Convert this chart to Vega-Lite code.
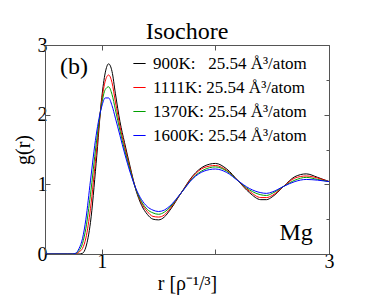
{
  "$schema": "https://vega.github.io/schema/vega-lite/v6.json",
  "width": 284,
  "height": 209,
  "autosize": {"type": "none"},
  "padding": {"left": 45, "top": 45, "right": 45, "bottom": 45},
  "background": "white",
  "title": {"text": "Isochore", "font": "Liberation Serif", "fontSize": 24, "fontWeight": "normal", "color": "black", "anchor": "middle", "offset": -9},
  "config": {"view": {"stroke": null}, "font": "Liberation Serif"},
  "datasets": {
    "gr": [
      {"r": 0.5, "900K": 0, "1111K": 0, "1370K": 0, "1600K": 0},
      {"r": 0.7, "900K": 0, "1111K": 0, "1370K": 0, "1600K": 0},
      {"r": 0.74, "900K": 0, "1111K": 0, "1370K": 0, "1600K": 0},
      {"r": 0.77, "900K": 0, "1111K": 0, "1370K": 0.01, "1600K": 0.01},
      {"r": 0.8, "900K": 0, "1111K": 0.03, "1370K": 0.05, "1600K": 0.08},
      {"r": 0.83, "900K": 0.01, "1111K": 0.08, "1370K": 0.15, "1600K": 0.22},
      {"r": 0.86, "900K": 0.1, "1111K": 0.23, "1370K": 0.37, "1600K": 0.5},
      {"r": 0.9, "900K": 0.45, "1111K": 0.65, "1370K": 0.85, "1600K": 1.05},
      {"r": 0.95, "900K": 1.3, "1111K": 1.43, "1370K": 1.57, "1600K": 1.7},
      {"r": 1.0, "900K": 2.25, "1111K": 2.21, "1370K": 2.16, "1600K": 2.12},
      {"r": 1.03, "900K": 2.6, "1111K": 2.48, "1370K": 2.36, "1600K": 2.24},
      {"r": 1.06, "900K": 2.73, "1111K": 2.57, "1370K": 2.4, "1600K": 2.24},
      {"r": 1.09, "900K": 2.62, "1111K": 2.46, "1370K": 2.29, "1600K": 2.13},
      {"r": 1.12, "900K": 2.3, "1111K": 2.18, "1370K": 2.07, "1600K": 1.95},
      {"r": 1.16, "900K": 1.9, "1111K": 1.83, "1370K": 1.77, "1600K": 1.7},
      {"r": 1.2, "900K": 1.6, "1111K": 1.55, "1370K": 1.5, "1600K": 1.45},
      {"r": 1.25, "900K": 1.25, "1111K": 1.22, "1370K": 1.2, "1600K": 1.17},
      {"r": 1.3, "900K": 0.92, "1111K": 0.93, "1370K": 0.93, "1600K": 0.94},
      {"r": 1.35, "900K": 0.7, "1111K": 0.73, "1370K": 0.75, "1600K": 0.78},
      {"r": 1.4, "900K": 0.57, "1111K": 0.61, "1370K": 0.64, "1600K": 0.68},
      {"r": 1.45, "900K": 0.5, "1111K": 0.54, "1370K": 0.59, "1600K": 0.63},
      {"r": 1.5, "900K": 0.49, "1111K": 0.53, "1370K": 0.57, "1600K": 0.61},
      {"r": 1.55, "900K": 0.53, "1111K": 0.56, "1370K": 0.6, "1600K": 0.63},
      {"r": 1.6, "900K": 0.63, "1111K": 0.65, "1370K": 0.67, "1600K": 0.69},
      {"r": 1.7, "900K": 0.88, "1111K": 0.88, "1370K": 0.88, "1600K": 0.88},
      {"r": 1.8, "900K": 1.12, "1111K": 1.11, "1370K": 1.09, "1600K": 1.08},
      {"r": 1.9, "900K": 1.26, "1111K": 1.24, "1370K": 1.21, "1600K": 1.19},
      {"r": 2.0, "900K": 1.3, "1111K": 1.27, "1370K": 1.25, "1600K": 1.22},
      {"r": 2.1, "900K": 1.22, "1111K": 1.2, "1370K": 1.19, "1600K": 1.17},
      {"r": 2.2, "900K": 1.05, "1111K": 1.05, "1370K": 1.05, "1600K": 1.05},
      {"r": 2.3, "900K": 0.88, "1111K": 0.9, "1370K": 0.92, "1600K": 0.94},
      {"r": 2.4, "900K": 0.78, "1111K": 0.81, "1370K": 0.85, "1600K": 0.88},
      {"r": 2.45, "900K": 0.78, "1111K": 0.81, "1370K": 0.84, "1600K": 0.87},
      {"r": 2.5, "900K": 0.82, "1111K": 0.84, "1370K": 0.87, "1600K": 0.89},
      {"r": 2.6, "900K": 0.97, "1111K": 0.97, "1370K": 0.97, "1600K": 0.97},
      {"r": 2.7, "900K": 1.11, "1111K": 1.09, "1370K": 1.06, "1600K": 1.04},
      {"r": 2.8, "900K": 1.15, "1111K": 1.12, "1370K": 1.1, "1600K": 1.07},
      {"r": 2.9, "900K": 1.1, "1111K": 1.09, "1370K": 1.07, "1600K": 1.06},
      {"r": 3.0, "900K": 1.04, "1111K": 1.04, "1370K": 1.04, "1600K": 1.04}
    ],
    "notes": [
      {"r": 0.755, "g": 2.59, "txt": "(b)"},
      {"r": 2.71, "g": 0.2, "txt": "Mg"}
    ]
  },
  "layer": [
    {
      "data": {"name": "gr"},
      "transform": [{"fold": ["900K", "1111K", "1370K", "1600K"], "as": ["T", "g"]}],
      "mark": {"type": "line", "strokeWidth": 1, "interpolate": "monotone", "clip": true},
      "encoding": {
        "x": {"field": "r", "type": "quantitative",
          "scale": {"domain": [0.5, 3], "nice": false, "zero": false},
          "axis": {"orient": "bottom", "values": [1, 2, 3], "format": "d", "labelExpr": "datum.value == 2 ? '' : datum.label",
            "grid": false, "tickSize": -5, "tickColor": "#555", "domainColor": "#555",
            "labelFont": "Liberation Serif", "labelFontSize": 20, "labelColor": "black", "labelPadding": 2,
            "labelFlush": false, "labelOverlap": false,
            "title": "r [ρ⁻¹/³]", "titleFont": "Liberation Serif", "titleFontSize": 20, "titleFontWeight": "normal", "titleColor": "black", "titlePadding": 2}},
        "y": {"field": "g", "type": "quantitative",
          "scale": {"domain": [0, 3], "nice": false},
          "axis": {"orient": "left", "values": [0, 0.5, 1, 1.5, 2, 2.5, 3], "format": "d", "labelExpr": "datum.value % 1 ? '' : datum.label",
            "grid": false, "tickSize": {"condition": {"test": "datum.value % 1 != 0", "value": -3}, "value": -5},
            "tickColor": "#555", "domainColor": "#555",
            "labelFont": "Liberation Serif", "labelFontSize": 20, "labelColor": "black", "labelPadding": 3,
            "labelFlush": false, "labelOverlap": false,
            "title": "g(r)", "titleFont": "Liberation Serif", "titleFontSize": 20, "titleFontWeight": "normal", "titleColor": "black", "titlePadding": 4}},
        "color": {"field": "T", "type": "nominal",
          "scale": {"domain": ["900K", "1111K", "1370K", "1600K"], "range": ["#000000", "#ff0000", "#00a000", "#0000ff"]},
          "legend": {"orient": "none", "legendX": 86, "legendY": 10, "title": null,
            "symbolType": "stroke", "symbolSize": 150, "symbolStrokeWidth": 1,
            "labelFont": "Liberation Serif", "labelFontSize": 17, "labelColor": "black", "labelLimit": 300,
            "rowPadding": 6, "labelOffset": 5,
            "labelExpr": "datum.label == '900K' ? '900K:\u00a0\u00a0 25.54 Å³/atom' : datum.label + ': 25.54 Å³/atom'"}}
      }
    },
    {
      "data": {"name": "gr"},
      "mark": {"type": "point", "opacity": 0},
      "encoding": {
        "x": {"field": "r", "type": "quantitative",
          "scale": {"domain": [0.5, 3], "nice": false, "zero": false},
          "axis": {"orient": "top", "values": [1, 2, 3], "labels": false, "grid": false, "tickSize": -5,
            "tickColor": "#555", "domainColor": "#555", "title": null}},
        "y": {"field": "900K", "type": "quantitative",
          "scale": {"domain": [0, 3], "nice": false},
          "axis": {"orient": "right", "values": [0, 0.5, 1, 1.5, 2, 2.5, 3], "labels": false, "grid": false,
            "tickSize": {"condition": {"test": "datum.value % 1 != 0", "value": -3}, "value": -5},
            "tickColor": "#555", "domainColor": "#555", "title": null}}
      }
    },
    {
      "data": {"name": "notes"},
      "mark": {"type": "text", "font": "Liberation Serif", "fontSize": 24, "baseline": "alphabetic", "align": "center", "color": "black"},
      "encoding": {
        "x": {"field": "r", "type": "quantitative", "axis": null},
        "y": {"field": "g", "type": "quantitative", "axis": null},
        "text": {"field": "txt"}
      }
    }
  ],
  "resolve": {"axis": {"x": "independent", "y": "independent"}}
}
